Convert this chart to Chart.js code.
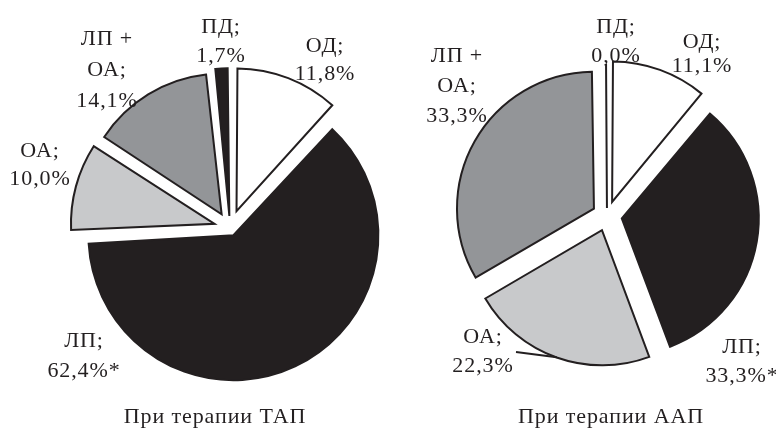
<!DOCTYPE html>
<html>
<head>
<meta charset="utf-8">
<script src="https://cdn.jsdelivr.net/npm/chart.js@4.4.0/dist/chart.umd.min.js"></script>
<style>
  body { margin: 0; background: #fff; }
  #wrap { position: relative; width: 776px; height: 430px; }
  #wrap canvas { position: absolute; left: 0; top: 0; }
  .title {
    position: absolute; top: 404px; width: 300px; text-align: center;
    font-family: "Liberation Serif", serif; font-size: 22px; line-height: 24px;
    color: #231f20; letter-spacing: 0.9px;
  }
</style>
</head>
<body>
<div id="wrap">
  <canvas id="tapChart" width="776" height="430"></canvas>
  <canvas id="aapChart" width="776" height="430"></canvas>
  <div class="title" style="left:65px">При терапии ТАП</div>
  <div class="title" style="left:461px">При терапии ААП</div>
</div>
<script>
// categories, clockwise from 12 o'clock
const categories = ['ОД', 'ЛП', 'ОА', 'ЛП + ОА', 'ПД'];

// При терапии ТАП
const tapValues = [11.8, 62.4, 10.0, 14.1, 1.7];
const tapText = ['11,8%', '62,4%*', '10,0%', '14,1%', '1,7%'];

// При терапии ААП (ПД is 0,0% but drawn as a thin sliver)
const aapValues = [11.1, 33.3, 22.3, 33.3, 0.2];
const aapText = ['11,1%', '33,3%*', '22,3%', '33,3%', '0,0%'];

const sliceColors = ['#ffffff', '#231f20', '#c8c9cb', '#939598', '#231f20'];
const ink = '#231f20';

// label placement relative to the pie centre: [dx, first baseline dy, line gap]
const tapLabelPos = [[95, -176, 28], [-146, 119, 30], [-190, -71, 28], [-123, -183, 31], [-9, -195, 29]];
const aapLabelPos = [[95, -168, 24], [135, 137, 29], [-124, 127, 29], [-150, -154, 30], [9, -183, 29]];

function labelLines(cat, pct) {
  const parts = cat.split(' + ');
  const lines = parts.map((p, i) => i < parts.length - 1 ? p + ' +' : p + ';');
  lines.push(pct);
  return lines;
}

const sliceLabels = {
  id: 'sliceLabels',
  afterDatasetsDraw(chart, args, opts) {
    const ctx = chart.ctx;
    const arcs = chart.getDatasetMeta(0).data;
    ctx.save();
    ctx.font = '22px "Liberation Serif"';
    ctx.letterSpacing = '0.9px';
    ctx.fillStyle = ink;
    ctx.textAlign = 'center';
    ctx.textBaseline = 'alphabetic';
    arcs.forEach((arc, i) => {
      const [dx, dy, gap] = opts.pos[i];
      const lines = labelLines(categories[i], opts.text[i]);
      lines.forEach((ln, k) => ctx.fillText(ln, arc.x + dx, arc.y + dy + k * gap));
    });
    // leader line from a label to its slice
    if (opts.leader) {
      const { index, from } = opts.leader;
      const arc = arcs[index];
      const mid = (arc.startAngle + arc.endAngle) / 2;
      const shift = (arc.options.offset || 0) / 4;
      const r = arc.outerRadius + shift;
      ctx.strokeStyle = ink;
      ctx.lineWidth = 2;
      ctx.beginPath();
      ctx.moveTo(arc.x + from[0], arc.y + from[1]);
      ctx.lineTo(arc.x + Math.cos(mid) * r, arc.y + Math.sin(mid) * r);
      ctx.stroke();
    }
    ctx.restore();
  }
};

function makePie(id, values, text, pos, offsets, radius, padding, leader) {
  return new Chart(document.getElementById(id), {
    type: 'pie',
    data: {
      labels: categories,
      datasets: [{
        data: values,
        backgroundColor: sliceColors,
        borderColor: ink,
        borderWidth: 2,
        borderJoinStyle: 'miter',
        offset: offsets
      }]
    },
    options: {
      responsive: false,
      animation: false,
      events: [],
      radius: radius,
      layout: { padding: padding },
      plugins: {
        legend: { display: false },
        tooltip: { enabled: false },
        sliceLabels: { pos: pos, text: text, leader: leader }
      }
    },
    plugins: [sliceLabels]
  });
}

makePie('tapChart', tapValues, tapText, tapLabelPos,
  [72, 32, 64, 64, 48], 137, { left: 0, right: 316, top: 26, bottom: 0 }, null);

makePie('aapChart', aapValues, aapText, aapLabelPos,
  [60, 60, 60, 60, 32], 135, { left: 438, right: 0, top: 2, bottom: 0 },
  { index: 2, from: [-91, 136] });
</script>
</body>
</html>
